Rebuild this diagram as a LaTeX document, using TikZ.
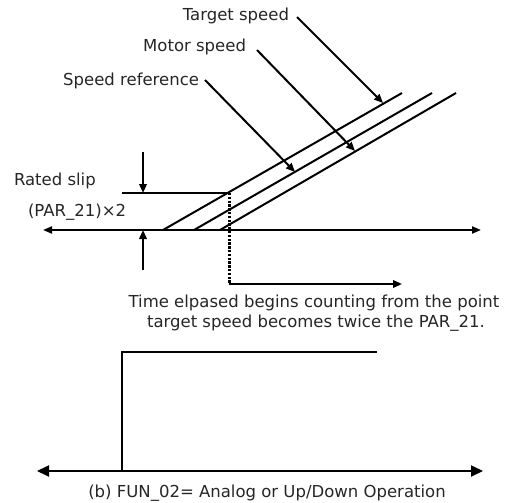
\documentclass[tikz,border=0pt]{standalone}
\usepackage{fontspec}
\setmainfont{DejaVu Sans}
\usetikzlibrary{arrows.meta}
\begin{document}
\begin{tikzpicture}[x=1pt,y=-1pt,line width=2pt,
  lbl/.style={font=\fontsize{16.5}{19}\selectfont, inner sep=0pt, text=black!85},
  ptr/.style={-{Triangle[length=9pt,width=7.5pt]}},
  axis/.style={{Triangle[length=9pt,width=7pt]}-{Triangle[length=9pt,width=7pt]}},
  baxis/.style={{Triangle[length=12pt,width=11pt]}-{Triangle[length=12pt,width=11pt]}},
  dots/.style={line width=3pt, dash pattern=on 2.4pt off 1.4pt}]
\useasboundingbox (0,0) rectangle (506,503);
% top axis
\coordinate (axL) at (43,230);
\coordinate (axR) at (481,230);
\draw[axis] (axL) -- (axR);
% three ramps
\coordinate (r1a) at (163,230); \coordinate (r1b) at (402,93);
\coordinate (r2a) at (194,230); \coordinate (r2b) at (432,93);
\coordinate (r3a) at (220,230); \coordinate (r3b) at (456,93);
\draw (r1a) -- (r1b);
\draw (r2a) -- (r2b);
\draw (r3a) -- (r3b);
% labels and pointers
\node[lbl, anchor=base east] (tgt) at (290,21) {Target speed};
\node[lbl, anchor=base east] (mot) at (247,52) {Motor speed};
\node[lbl, anchor=base east] (ref) at (200,85) {Speed reference};
\coordinate (tgtS) at (297,17); \coordinate (tgtE) at (383,103);
\coordinate (motS) at (257,50); \coordinate (motE) at (355,151);
\coordinate (refS) at (205,80); \coordinate (refE) at (295,172);
\draw[ptr] (tgtS) -- (tgtE);
\draw[ptr] (motS) -- (motE);
\draw[ptr] (refS) -- (refE);
% rated slip
\coordinate (slL) at (122,193); \coordinate (slR) at (229,193);
\draw (slL) -- (slR);
\coordinate (dnS) at (143,152); \coordinate (dnE) at (143,193);
\coordinate (upS) at (143,270); \coordinate (upE) at (143,230);
\draw[ptr] (dnS) -- (dnE);
\draw[ptr] (upS) -- (upE);
\node[lbl, anchor=base west] (rs) at (13,185) {Rated slip};
\node[lbl, anchor=base west] (par) at (27,216) {(PAR\_21)×2};
% dotted marker and time arrow
\coordinate (dT) at (229,193); \coordinate (dB) at (229,284);
\coordinate (tE) at (402,284);
\draw[dots] (dT) -- (dB);
\draw[ptr] (dB) -- (tE);
\node[lbl, anchor=base] (t1) at (314,307) {Time elpased begins counting from the point};
\node[lbl, anchor=base] (t2) at (316,327) {target speed becomes twice the PAR\_21.};
% bottom
\coordinate (bL) at (37,471); \coordinate (bR) at (483,471);
\draw[baxis] (bL) -- (bR);
\coordinate (s0) at (122,471); \coordinate (s1) at (377,352);
\draw (s0) |- (s1);
\node[lbl, anchor=base] (cap) at (267,497) {(b) FUN\_02= Analog or Up/Down Operation};
\end{tikzpicture}
\end{document}
